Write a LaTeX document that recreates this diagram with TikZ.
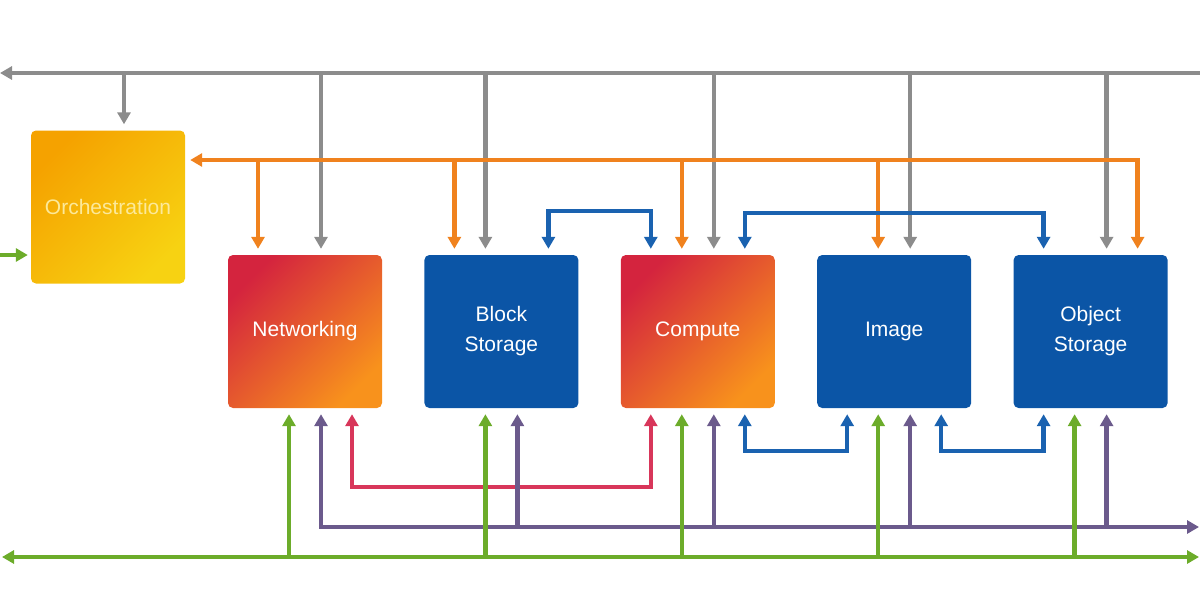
\documentclass[tikz,border=0pt]{standalone}
\usepackage{fontspec}
\setmainfont{Liberation Sans}
\usetikzlibrary{arrows.meta,positioning}
\definecolor{busgray}{HTML}{8C8C8C}
\definecolor{busorange}{HTML}{F0821E}
\definecolor{busblue}{HTML}{1A62B0}
\definecolor{busgreen}{HTML}{6CAC2A}
\definecolor{buspurple}{HTML}{6B5A8C}
\definecolor{busred}{HTML}{D8365A}
\definecolor{boxblue}{HTML}{0B55A6}
\definecolor{hotred}{HTML}{D4243E}
\definecolor{hotorange}{HTML}{F8921C}
\definecolor{sunorange}{HTML}{F5A200}
\definecolor{sunyellow}{HTML}{F7D212}
\definecolor{suntext}{HTML}{FCE99A}
\tikzset{
  box/.style={rounded corners=5pt, minimum width=154pt, minimum height=153pt,
    inner sep=0pt, align=center, text=white, font=\fontsize{21}{30}\selectfont},
  bluebox/.style={box, fill=boxblue},
  hotbox/.style={box, top color=hotred, bottom color=hotorange, shading angle=45},
  sunbox/.style={box, top color=sunorange, bottom color=sunyellow, shading angle=45, text=suntext},
  wire/.style={line width=4.5pt},
  tobox/.style={shorten >=6pt},
  frombox/.style={shorten <=6pt},
}
\begin{document}
\begin{tikzpicture}[x=1pt, y=-1pt, >={Triangle[length=12pt,width=13pt]}]
  \useasboundingbox (0,0) rectangle (1200,600);

  \node[sunbox] (orch) at (108,207) {Orchestration};
  \node[hotbox] (net) at (305,331.5) {Networking};
  \node[bluebox, right=42pt of net] (blk) {Block\\Storage};
  \node[hotbox, right=42pt of blk] (cmp) {Compute};
  \node[bluebox, right=42pt of cmp] (img) {Image};
  \node[bluebox, right=42pt of img] (obj) {Object\\Storage};

  \foreach \b in {orch,net,blk,cmp,img,obj}{
    \foreach \s/\dx in {1/-47,2/-16,3/16,4/47}{
      \coordinate (\b-n\s) at ([xshift=\dx pt]\b.north);
      \coordinate (\b-s\s) at ([xshift=\dx pt]\b.south);
    }
  }

  \coordinate (gbus) at (0,73);
  \coordinate (gbusR) at (1200,73);
  \coordinate (obus) at (0,160);
  \coordinate (pbus) at (0,527);
  \coordinate (pbusR) at (1199,527);
  \coordinate (vbus) at (2,557);
  \coordinate (vbusR) at (1199,557);
  \coordinate (vin) at (0,255);

  % gray
  \draw[wire, busgray, ->] (gbusR) -- (gbus);
  \foreach \t in {orch-n3,net-n3,blk-n2,cmp-n3,img-n3,obj-n3}
    \draw[wire, busgray, ->, tobox] (gbus -| \t) -- (\t);

  % orange
  \draw[wire, busorange, <->, frombox, shorten >=5pt] (obj-n4) |- ([yshift=47pt]orch.east);
  \foreach \t in {net-n1,blk-n1,cmp-n2,img-n2}
    \draw[wire, busorange, ->, tobox] (obus -| \t) -- (\t);

  % blue
  \draw[wire, busblue, <->, frombox, tobox] (blk-n4) -- ++(0,-44) -| (cmp-n1);
  \draw[wire, busblue, <->, frombox, tobox] (cmp-n4) -- ++(0,-42) -| (obj-n1);
  \draw[wire, busblue, <->, frombox, tobox] (cmp-s4) -- ++(0,43) -| (img-s1);
  \draw[wire, busblue, <->, frombox, tobox] (img-s4) -- ++(0,43) -| (obj-s1);

  % red
  \draw[wire, busred, <->, frombox, tobox] (net-s4) -- ++(0,79) -| (cmp-s1);

  % purple
  \draw[wire, buspurple, <->, frombox] (net-s3) |- (pbusR);
  \foreach \t in {blk-s3,cmp-s3,img-s3,obj-s3}
    \draw[wire, buspurple, ->, tobox] (pbus -| \t) -- (\t);

  % green
  \draw[wire, busgreen, <->] (vbus) -- (vbusR);
  \draw[wire, busgreen, ->, shorten >=3pt] (vin) -- (orch.west |- vin);
  \foreach \t in {net-s2,blk-s2,cmp-s2,img-s2,obj-s2}
    \draw[wire, busgreen, ->, tobox] (vbus -| \t) -- (\t);
\end{tikzpicture}
\end{document}
